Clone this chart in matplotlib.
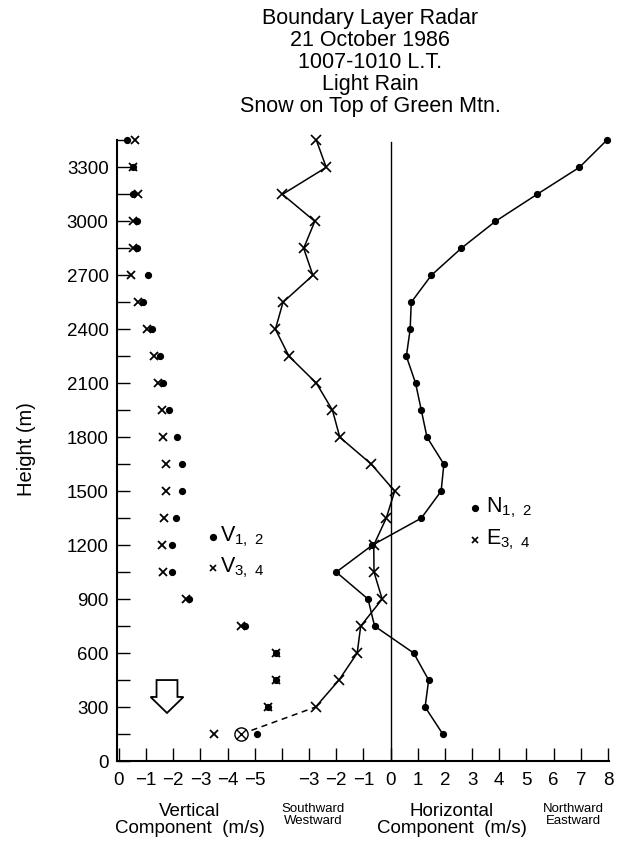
import numpy as np
import matplotlib
matplotlib.use('Agg')
import matplotlib.pyplot as plt

plt.rcParams['font.family'] = ['Liberation Sans', 'DejaVu Sans']
plt.rcParams['mathtext.fontset'] = 'custom'
plt.rcParams['mathtext.rm'] = 'Liberation Sans'
plt.rcParams['mathtext.default'] = 'regular'

# heights of the radar range gates (m)
heights = [150, 300, 450, 600, 750, 900, 1050, 1200, 1350, 1500, 1650, 1800,
           1950, 2100, 2250, 2400, 2550, 2700, 2850, 3000, 3150, 3300, 3450]

# vertical component (m/s), beams 1,2 (dots) and 3,4 (crosses)
v12 = [-5.07, -5.50, -5.80, -5.78, -4.64, -2.58, -1.96, -1.94, -2.10, -2.31, -2.31, -2.12,
       -1.85, -1.63, -1.51, -1.20, -0.90, -1.06, -0.67, -0.67, -0.53, -0.53, -0.28]
v34 = [-3.51, -5.50, -5.80, -5.78, -4.48, -2.47, -1.63, -1.59, -1.67, -1.75, -1.75, -1.63,
       -1.57, -1.45, -1.30, -1.02, -0.71, -0.44, -0.53, -0.53, -0.69, -0.53, -0.59]

# horizontal component (m/s), northward (N1,2) and eastward (E3,4)
north = [1.92, 1.27, 1.40, 0.85, -0.59, -0.83, -2.00, -0.67, 1.13, 1.86, 1.96, 1.34,
         1.13, 0.92, 0.58, 0.72, 0.76, 1.50, 2.60, 3.86, 5.39, 6.95, 7.95]
east = [-5.49, -2.76, -1.90, -1.23, -1.10, -0.31, -0.61, -0.62, -0.16, 0.15, -0.71, -1.87,
        -2.14, -2.73, -3.74, -4.24, -3.96, -2.86, -3.20, -2.79, -3.98, -2.37, -2.73]

x_labels = ['0', '\u22121', '\u22122', '\u22123', '\u22124', '\u22125', '',
            '\u22123', '\u22122', '\u22121', '0', '1', '2', '3', '4', '5', '6', '7', '8']

title = "Boundary Layer Radar\n21 October 1986\n1007-1010 L.T.\nLight Rain\nSnow on Top of Green Mtn."

# both panels share one x axis: vertical speed is drawn as -v, horizontal as h + 10
H0 = 10

H = np.array(heights)
fig = plt.figure(figsize=(6.22, 8.41), dpi=100)
ax = fig.add_axes([117 / 622, 80 / 841, 491.5 / 622, 621 / 841])

ax.plot(-np.array(v12), H, 'o', color='black', ms=4.2, ls='none', clip_on=False)
ax.plot(-np.array(v34), H, 'x', color='black', ms=5.5, mew=1.3, ls='none', clip_on=False)

ax.axvline(H0, ymax=0.997, color='black', lw=1.0)

e = np.array(east) + H0
n = np.array(north) + H0
ax.plot(n, H, '-o', color='black', lw=1.1, ms=4.2, clip_on=False)
ax.plot(e[1:], H[1:], '-x', color='black', lw=1.1, ms=6.5, mew=1.2, clip_on=False)
ax.plot(e[:2], H[:2], '--', color='black', lw=1.1, dashes=(4, 3))
ax.plot(e[:1], H[:1], 'o', mfc='white', mec='black', ms=9.5, mew=1.0)
ax.plot(e[:1], H[:1], 'x', color='black', ms=6.5, mew=1.0)

# legend keys
ax.plot([3.46], [1244], 'o', color='black', ms=4.2)
ax.plot([3.46], [1072], 'x', color='black', ms=4.5, mew=1.2)
ax.text(3.72, 1244, r'V$_{1,\ 2}$', fontsize=15.5, va='center')
ax.text(3.72, 1072, r'V$_{3,\ 4}$', fontsize=15.5, va='center')
ax.plot([13.1], [1405], 'o', color='black', ms=4.2)
ax.plot([13.1], [1228], 'x', color='black', ms=4.5, mew=1.2)
ax.text(13.5, 1405, r'N$_{1,\ 2}$', fontsize=15.5, va='center')
ax.text(13.5, 1228, r'E$_{3,\ 4}$', fontsize=15.5, va='center')

# hollow arrow
ax.arrow(1.77, 450, 0, -183, width=0.77, head_width=1.21, head_length=89,
         length_includes_head=True, fc='white', ec='black', lw=1.3)

ax.set_xlim(-0.07, 18.02)
ax.set_ylim(0, 3452)
ax.spines['top'].set_visible(False)
ax.spines['right'].set_visible(False)
ax.spines['left'].set_linewidth(1.5)
ax.spines['bottom'].set_linewidth(1.5)

ax.set_xticks(np.arange(19))
ax.set_xticklabels(x_labels)
ax.set_yticks(np.arange(0, 3301, 300))
ax.set_yticks(np.arange(150, 3451, 300), minor=True)
ax.tick_params(axis='both', which='both', direction='in', length=9.5, width=1.0,
               labelsize=13.5, color='black')
ax.tick_params(axis='x', pad=8)
ax.tick_params(axis='y', pad=6)

fig.text(26 / 622, 1 - 449 / 841, 'Height (m)', rotation=90, fontsize=14.5,
         ha='center', va='center')
fig.text(0.595, 0.990, title, fontsize=15.5, ha='center', va='top', linespacing=1.05)

fig.text(190 / 622, 1 - 820 / 841, 'Vertical\nComponent  (m/s)', fontsize=13.5,
         ha='center', va='center', linespacing=1.05)
fig.text(452 / 622, 1 - 820 / 841, 'Horizontal\nComponent  (m/s)', fontsize=13.5,
         ha='center', va='center', linespacing=1.05)
fig.text(313 / 622, 1 - 815 / 841, 'Southward\nWestward', fontsize=9.5,
         ha='center', va='center', linespacing=1.1)
fig.text(573 / 622, 1 - 815 / 841, 'Northward\nEastward', fontsize=9.5,
         ha='center', va='center', linespacing=1.1)

fig.savefig('out.png', dpi=100)
plt.close(fig)
